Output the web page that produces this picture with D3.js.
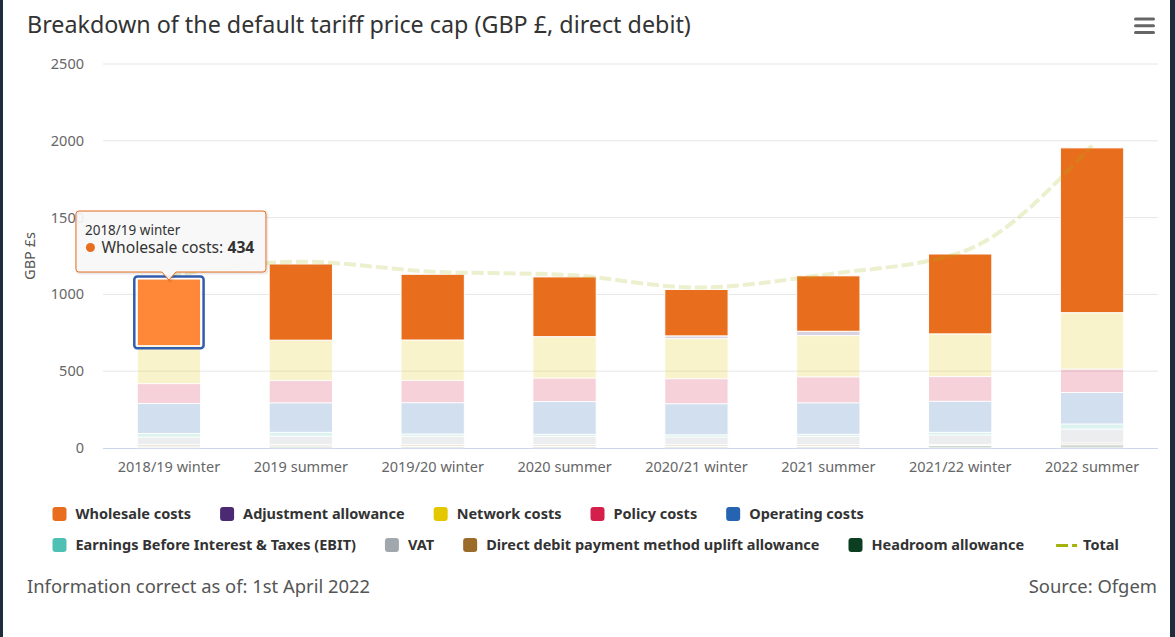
<!DOCTYPE html>
<html>
<head>
<meta charset="utf-8">
<script src="https://cdn.jsdelivr.net/npm/d3@7"></script>
<style>
body { margin: 0; background: #1f2c3b; }
svg { display: block; font-family: "Noto Sans", sans-serif; }
</style>
</head>
<body>
<svg id="chart" width="1175" height="637"></svg>
<script>
var categories = ["2018/19 winter", "2019 summer", "2019/20 winter", "2020 summer",
    "2020/21 winter", "2021 summer", "2021/22 winter", "2022 summer"];

var wholesale   = [434, 496, 428, 389, 302, 361, 520, 1073];
var adjustment  = [0, 0, 0, 0, 18, 28, 0, 0];
var network     = [247, 263, 263, 270, 261, 269, 278, 367];
var policy      = [129, 145, 145, 153, 163, 169, 161, 153];
var operating   = [196, 192, 204, 213, 202, 205, 202, 205];
var ebit        = [23, 25, 15, 15, 15, 15, 18, 33];
var vat         = [49, 55, 54, 52, 49, 52, 62, 90];
var directDebit = [14, 10, 12, 12, 12, 12, 6, 12];
var headroom    = [8, 12, 10, 10, 10, 10, 16, 21];
var total       = [1120, 1213, 1148, 1128, 1045, 1132, 1272, 1971];

var yTicks = [0, 500, 1000, 1500, 2000, 2500];

var seriesNames = ["Wholesale costs", "Adjustment allowance", "Network costs", "Policy costs",
    "Operating costs", "Earnings Before Interest & Taxes (EBIT)", "VAT",
    "Direct debit payment method uplift allowance", "Headroom allowance"];
var seriesValues = [wholesale, adjustment, network, policy, operating, ebit, vat, directDebit, headroom];
var seriesColors = ["#e86e1e", "#4b2a73", "#e3c800", "#d41f4b", "#2664b1",
    "#4fc1b4", "#a1a8ad", "#9b6b29", "#0c3f22"];
var totalName = "Total";
var totalColor = "#a3b30c";
var hoverIndex = 0;

var svg = d3.select("#chart");

// white card, dark page showing at the edges
svg.append("rect")
    .attr("x", 3).attr("y", 0)
    .attr("width", 1167).attr("height", 637)
    .attr("fill", "#fff");

svg.append("text")
    .attr("x", 27).attr("y", 33)
    .attr("font-size", 23.3)
    .attr("fill", "#333")
    .text("Breakdown of the default tariff price cap (GBP £, direct debit)");

// menu icon
[0, 1, 2].forEach((i)=>{
    svg.append("rect")
        .attr("x", 1134).attr("y", 17.5 + i * 6.8)
        .attr("width", 21).attr("height", 3).attr("rx", 1.5)
        .attr("fill", "#666");
});

var rows = categories.map((c, i)=>{
    var r = { cat: c };
    seriesNames.forEach((n, k)=>{ r[n] = seriesValues[k][i]; });
    return r;
});

var x = d3.scaleBand()
    .domain(categories)
    .range([103, 1158])
    .paddingInner(0.52)
    .paddingOuter(0.26);

var y = d3.scaleLinear()
    .domain([0, 2500])
    .range([448, 64]);

// grid
svg.append("g").selectAll("line")
    .data(yTicks.filter((t)=> t > 0))
    .enter().append("line")
    .attr("x1", 103).attr("x2", 1158)
    .attr("y1", (d)=> y(d)).attr("y2", (d)=> y(d))
    .attr("stroke", "#e6e6e6");

svg.append("g").selectAll("text")
    .data(yTicks)
    .enter().append("text")
    .attr("x", 84).attr("y", (d)=> y(d) + 5)
    .attr("text-anchor", "end")
    .attr("font-size", 14.5)
    .attr("fill", "#666")
    .text((d)=> d);

svg.append("text")
    .attr("transform", "translate(35," + ((y(0) + y(2500)) / 2) + ") rotate(-90)")
    .attr("text-anchor", "middle")
    .attr("font-size", 14.5)
    .attr("fill", "#555")
    .text("GBP £s");

svg.append("line")
    .attr("x1", 103).attr("x2", 1158)
    .attr("y1", y(0) + 0.5).attr("y2", y(0) + 0.5)
    .attr("stroke", "#ccd6eb");

svg.append("g").selectAll("text")
    .data(categories)
    .enter().append("text")
    .attr("x", (d)=> x(d) + x.bandwidth() / 2)
    .attr("y", 472)
    .attr("text-anchor", "middle")
    .attr("font-size", 14.5)
    .attr("fill", "#666")
    .text((d)=> d);

// stacked columns, first series sits on top
var stacked = d3.stack().keys(seriesNames.slice().reverse())(rows);
var hoverRect = null;

stacked.forEach((layer)=>{
    var k = seriesNames.indexOf(layer.key);
    var g = svg.append("g").attr("opacity", k === 0 ? 1 : 0.2);
    g.selectAll("rect")
        .data(layer.filter((d)=> d[1] - d[0] > 0))
        .enter().append("rect")
        .attr("x", (d)=> x(d.data.cat))
        .attr("y", (d)=> y(d[1]))
        .attr("width", x.bandwidth())
        .attr("height", (d)=> y(d[0]) - y(d[1]))
        .attr("fill", (d)=> (k === 0 && d.data.cat === categories[hoverIndex]) ? "#ff8838" : seriesColors[k])
        .attr("stroke", "#fff")
        .attr("stroke-width", 1)
        .each(function(d){
            if (k === 0 && d.data.cat === categories[hoverIndex]) hoverRect = d;
        });
});

// total line (dimmed while the wholesale series is hovered)
var line = d3.line()
    .x((d, i)=> x(categories[i]) + x.bandwidth() / 2)
    .y((d)=> y(d))
    .curve(d3.curveMonotoneX);

svg.append("path")
    .datum(total)
    .attr("d", line)
    .attr("fill", "none")
    .attr("stroke", totalColor)
    .attr("stroke-width", 4)
    .attr("stroke-dasharray", "12,4")
    .attr("opacity", 0.2);

// focus ring round the hovered column
var fx = x(categories[hoverIndex]);
svg.append("rect")
    .attr("x", fx - 3).attr("y", y(hoverRect[1]) - 2.5)
    .attr("width", x.bandwidth() + 6)
    .attr("height", y(hoverRect[0]) - y(hoverRect[1]) + 5)
    .attr("rx", 3)
    .attr("fill", "none")
    .attr("stroke", "#335cad")
    .attr("stroke-width", 2.5);

// tooltip
var tipX = fx + x.bandwidth() / 2;
var tipY = y(hoverRect[1]) + 1;
var L = tipX - 93, R = tipX + 97, B = tipY - 8, T = B - 61;
var tipPath = "M" + (L + 3) + "," + T + "H" + (R - 3) + "Q" + R + "," + T + " " + R + "," + (T + 3) +
    "V" + (B - 3) + "Q" + R + "," + B + " " + (R - 3) + "," + B +
    "H" + (tipX + 7) + "L" + tipX + "," + tipY + "L" + (tipX - 7) + "," + B +
    "H" + (L + 3) + "Q" + L + "," + B + " " + L + "," + (B - 3) +
    "V" + (T + 3) + "Q" + L + "," + T + " " + (L + 3) + "," + T + "Z";

var tip = svg.append("g");
tip.append("path")
    .attr("d", tipPath)
    .attr("transform", "translate(1,1)")
    .attr("fill", "none")
    .attr("stroke", "rgba(0,0,0,0.08)")
    .attr("stroke-width", 3);
tip.append("path")
    .attr("d", tipPath)
    .attr("fill", "rgba(247,247,247,0.92)")
    .attr("stroke", seriesColors[0])
    .attr("stroke-width", 1);
tip.append("text")
    .attr("x", L + 9).attr("y", T + 24)
    .attr("font-size", 13.5)
    .attr("fill", "#333")
    .text(categories[hoverIndex]);
tip.append("circle")
    .attr("cx", L + 14.5).attr("cy", T + 36.5).attr("r", 4.5)
    .attr("fill", seriesColors[0]);
var tt = tip.append("text")
    .attr("x", L + 25.5).attr("y", T + 42)
    .attr("font-size", 15.7)
    .attr("fill", "#333");
tt.append("tspan").text(seriesNames[0] + ": ");
tt.append("tspan").attr("font-weight", "bold").text(wholesale[hoverIndex]);

// legend
var legendRows = [[0, 1, 2, 3, 4], [5, 6, 7, 8, 9]];
legendRows.forEach((row, r)=>{
    var lx = 52.5;
    var ly = 514 + r * 31;
    row.forEach((k)=>{
        var item = svg.append("g").attr("transform", "translate(" + lx + "," + ly + ")");
        var symW;
        var name;
        if (k < seriesNames.length) {
            item.append("rect")
                .attr("x", 0).attr("y", -7)
                .attr("width", 14).attr("height", 14).attr("rx", 3)
                .attr("fill", seriesColors[k]);
            symW = 23;
            name = seriesNames[k];
        } else {
            item.append("line")
                .attr("x1", 3).attr("x2", 24)
                .attr("y1", 0.5).attr("y2", 0.5)
                .attr("stroke", totalColor)
                .attr("stroke-width", 3)
                .attr("stroke-dasharray", "12,4");
            symW = 30;
            name = totalName;
        }
        var t = item.append("text")
            .attr("x", symW).attr("y", 5)
            .attr("font-size", 14.5)
            .attr("font-weight", "bold")
            .attr("fill", "#333")
            .text(name);
        lx += symW + t.node().getComputedTextLength() + 29;
    });
});

svg.append("text")
    .attr("x", 27).attr("y", 593)
    .attr("font-size", 18.4)
    .attr("fill", "#555")
    .text("Information correct as of: 1st April 2022");

svg.append("text")
    .attr("x", 1157).attr("y", 593)
    .attr("text-anchor", "end")
    .attr("font-size", 18.4)
    .attr("fill", "#555")
    .text("Source: Ofgem");
</script>
</body>
</html>
